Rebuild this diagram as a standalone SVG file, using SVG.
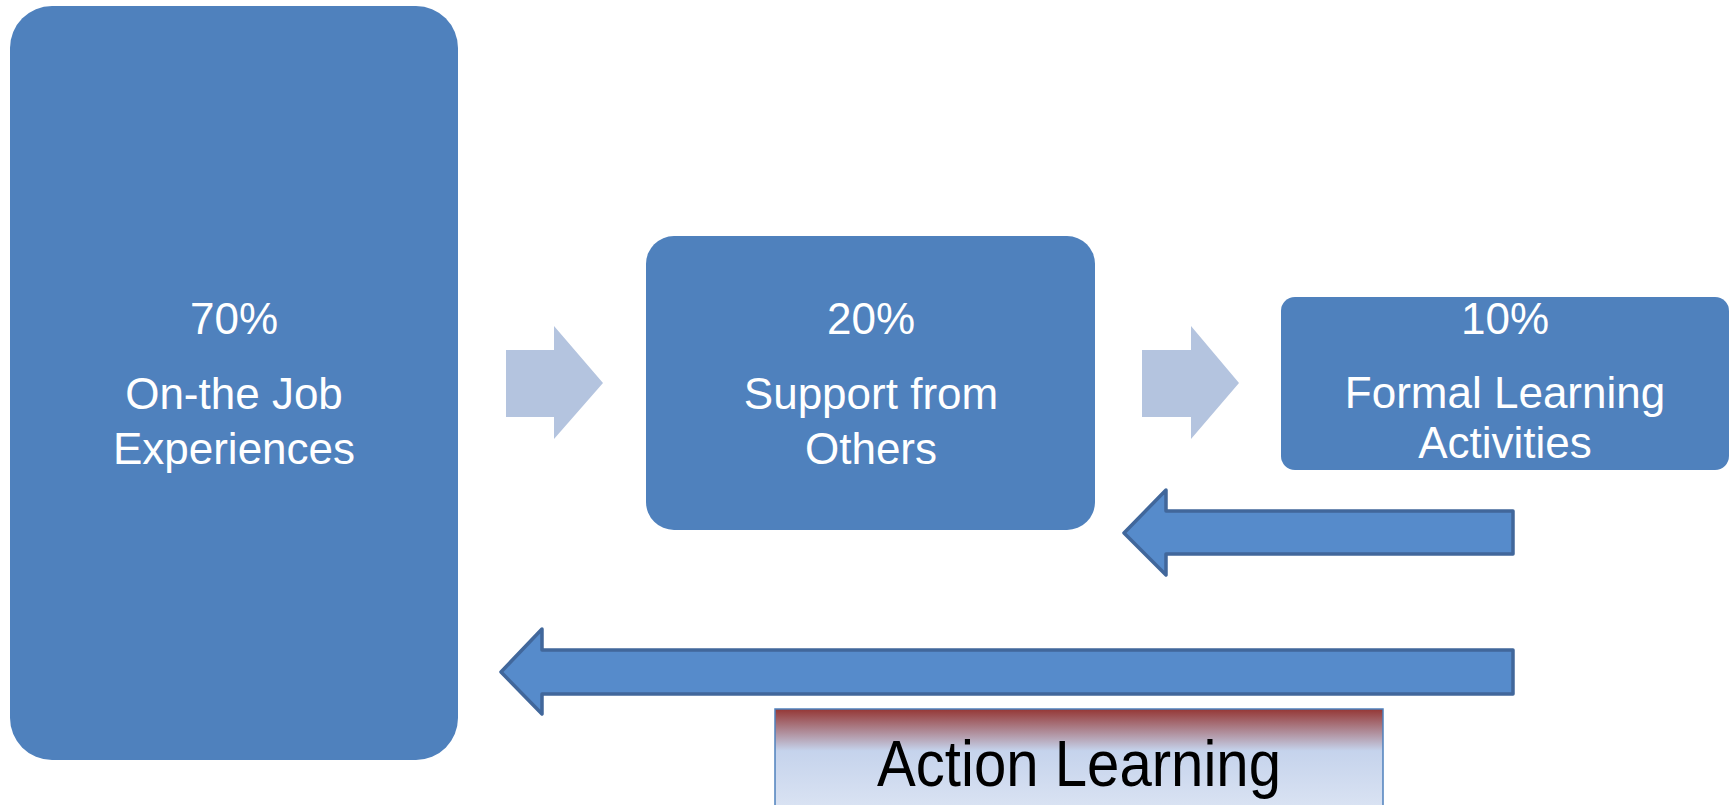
<svg xmlns="http://www.w3.org/2000/svg" width="1735" height="805" viewBox="0 0 1735 805">
<style>
.box{fill:#4F81BD}
.lbl{fill:#FFFFFF;font-family:"Liberation Sans",Arial,sans-serif;font-size:44px;text-anchor:middle}
.light{fill:#B4C4DF}
.blue{fill:#568BCB;stroke:#41679B;stroke-width:3.5;stroke-linejoin:round}
</style>
<defs>
<linearGradient id="al" x1="0" y1="0" x2="0" y2="1">
<stop offset="0" stop-color="#953735"/>
<stop offset="0.38" stop-color="#C5D3EC"/>
<stop offset="1" stop-color="#DEE6F4"/>
</linearGradient>
</defs>
<rect width="1735" height="805" fill="#FFFFFF"/>
<g id="node-70">
<rect class="box" x="10" y="6" width="448" height="754" rx="42" ry="42"/>
<text class="lbl" x="234" y="334">70%</text>
<text class="lbl" x="234" y="409">On-the Job</text>
<text class="lbl" x="234" y="464">Experiences</text>
</g>
<g id="node-20">
<rect class="box" x="646" y="236" width="449" height="294" rx="28" ry="28"/>
<text class="lbl" x="871" y="334">20%</text>
<text class="lbl" x="871" y="409">Support from</text>
<text class="lbl" x="871" y="464">Others</text>
</g>
<g id="node-10">
<rect class="box" x="1281" y="297" width="448" height="173" rx="14" ry="14"/>
<text class="lbl" x="1505" y="334">10%</text>
<text class="lbl" x="1505" y="408">Formal Learning</text>
<text class="lbl" x="1505" y="458">Activities</text>
</g>
<g id="connectors">
<polygon class="light" points="506,350 554,350 554,326 603,383 554,439 554,417 506,417"/>
<polygon class="light" points="1142,350 1191,350 1191,326 1239,383 1191,439 1191,417 1142,417"/>
<polygon class="blue" points="1513,511 1166,511 1166,490 1124,533 1166,575 1166,554 1513,554"/>
<polygon class="blue" points="1513,650 542,650 542,629 501,672 542,714 542,694 1513,694"/>
</g>
<g id="node-action">
<rect x="775" y="709" width="608" height="110" fill="url(#al)" stroke="#4F81BD" stroke-width="1.5"/>
<text x="1079" y="786" font-family="Liberation Sans,Arial,sans-serif" font-size="64" fill="#000000" text-anchor="middle" textLength="404" lengthAdjust="spacingAndGlyphs">Action Learning</text>
</g>
</svg>
